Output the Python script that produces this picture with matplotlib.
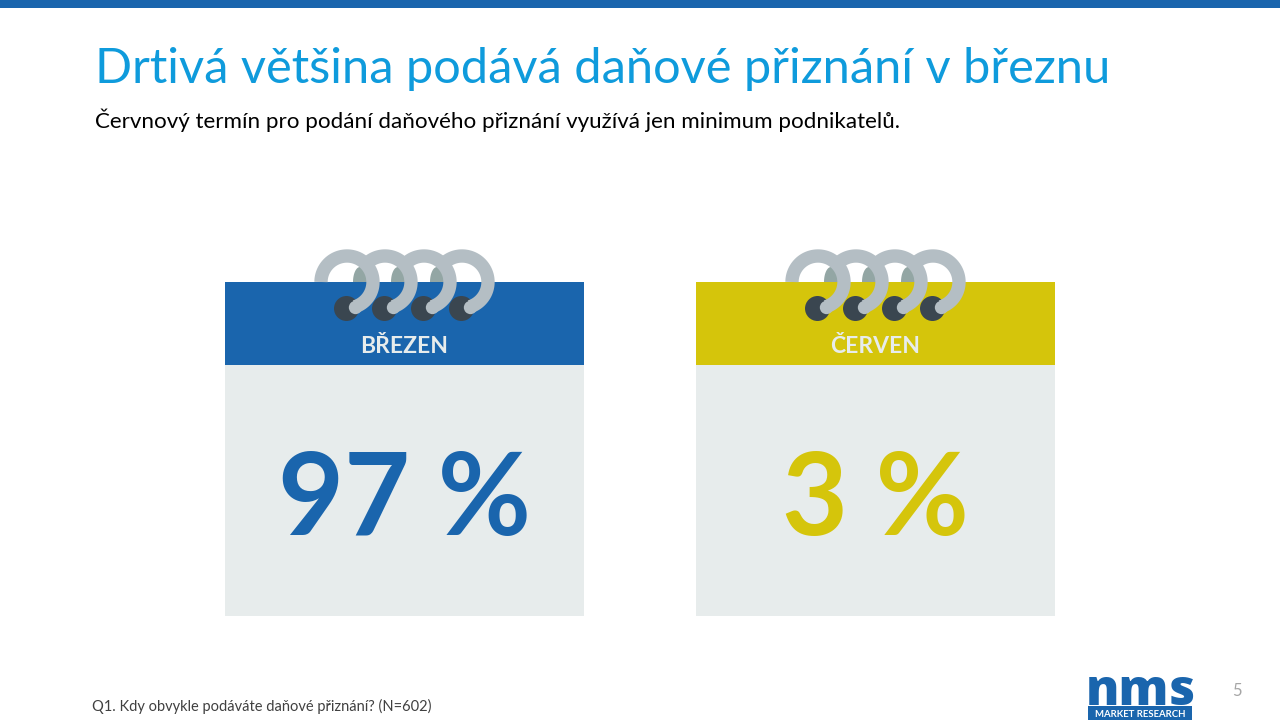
import matplotlib.pyplot as plt
import pandas as pd
import numpy as np

#Cria a tabela de dados
sheet = pd.DataFrame({"mes": ["BŘEZEN", "ČERVEN"],
                      "podil": [97, 3],
                      "centro": [404.5, 875.5],
                      "cor": ["#1A65AD", "#D5C50B"]})

#Converte os valores da tabela em arrays 1d:
meses = sheet["mes"].to_numpy()
podil = sheet["podil"].to_numpy()
centro = sheet["centro"].to_numpy()
cores = sheet["cor"].to_numpy()

plt.rcParams["font.family"] = ["Lato", "DejaVu Sans"]

#Cria a figura em coordenadas de pixel
plt.figure(figsize=(12.8, 7.2), dpi=100)
plt.axes([0, 0, 1, 1])
plt.xlim(0, 1280)
plt.ylim(720, 0)
plt.axis("off")

#Faixa superior
plt.bar(640, 8, width=1280, bottom=0, color="#1A65AD")

#Textos do topo
plt.text(95, 83, "Drtivá většina podává daňové přiznání v březnu", fontsize=35.1, color="#0F9BDC", va="baseline")
plt.text(95, 128, "Červnový termín pro podání daňového přiznání využívá jen minimum podnikatelů.", fontsize=16.1, color="black", va="baseline")

#Cria os calendários:
plt.bar(centro, 251, width=359, bottom=365, color="#E7ECEC", zorder=2)
plt.bar(centro, 83, width=359, bottom=282, color=cores, zorder=2)

for i in range(len(centro)):
    plt.text(centro[i], 353, meses[i], fontsize=16.5, fontweight="bold", color="#E7ECEC", ha="center", va="baseline", zorder=5)
    plt.text(centro[i], 535, str(podil[i]) + " %", fontsize=82, fontweight="bold", color=cores[i], ha="center", va="baseline", zorder=5)

    #Cria as argolas (da direita para a esquerda)
    for dx in [57.5, 19.5, -19.5, -57.5]:
        cx = centro[i] + dx
        if dx < 57:
            t = np.radians(np.linspace(180, 0, 40))
            plt.fill(cx + 13 + 7*np.cos(t), 282 - 15*np.sin(t), color="#93A6A4", lw=0, zorder=1)
        plt.plot(cx - 1.5, 307.5, "o", ms=18, color="#3A4650", mew=0, zorder=3)
        inicio = 180 if dx < -50 else 130
        t = np.radians(np.linspace(inicio, -72, 80))
        plt.plot(cx + 26*np.cos(t), 282 - 26*np.sin(t), color="#B4BEC4", lw=9.6, solid_capstyle="butt", zorder=4)
        plt.plot(cx + 26*np.cos(t[-1]), 282 - 26*np.sin(t[-1]), "o", ms=9.6, color="#B4BEC4", mew=0, zorder=4)

#Rodapé
plt.text(92, 711, "Q1. Kdy obvykle podáváte daňové přiznání? (N=602)", fontsize=10.5, color="#404040", va="baseline")
plt.text(1237, 696, "5", fontsize=12, color="#A6A6A6", ha="center", va="baseline")

#Logotipo
plt.text(1140.5, 705, "nms", fontsize=36, fontweight="black", color="#1A65AD", ha="center", va="baseline", family="Open Sans")
plt.bar(1140, 14, width=104, bottom=706, color="#1A65AD")
plt.text(1140, 717, "MARKET RESEARCH", fontsize=6.9, fontweight="bold", color="white", ha="center", va="baseline")

plt.savefig("out.png", dpi=100)
